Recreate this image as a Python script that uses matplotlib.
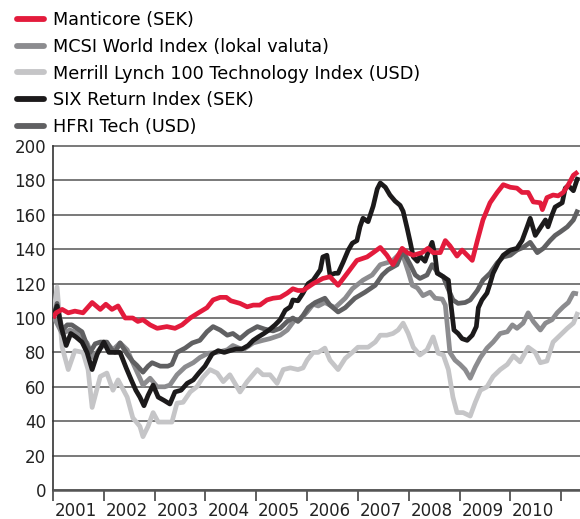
import matplotlib
matplotlib.use('Agg')
import matplotlib.pyplot as plt
import numpy as np

# (year, index value), start 2001 = 100
manticore = [
    (2001.00, 100), (2001.06, 103), (2001.18, 105), (2001.30, 103), (2001.43, 104), (2001.59, 103),
    (2001.77, 109), (2001.93, 105), (2002.04, 108), (2002.16, 105), (2002.28, 107), (2002.42, 100),
    (2002.57, 100), (2002.67, 98), (2002.77, 99), (2002.91, 96), (2003.05, 94), (2003.24, 95),
    (2003.40, 94), (2003.54, 96), (2003.70, 100), (2003.89, 103.5), (2004.03, 106), (2004.15, 110.5),
    (2004.29, 112), (2004.41, 112), (2004.50, 110), (2004.68, 108.5), (2004.82, 106.5), (2004.94, 107.5),
    (2005.07, 107.5), (2005.21, 110.5), (2005.33, 111.5), (2005.47, 112), (2005.61, 114.5), (2005.72, 117),
    (2005.82, 116), (2005.92, 116), (2006.12, 120), (2006.31, 123), (2006.45, 124), (2006.61, 119),
    (2006.79, 126), (2006.98, 133.5), (2007.18, 135.5), (2007.30, 138), (2007.44, 141), (2007.57, 136.5),
    (2007.69, 131), (2007.87, 140.5), (2007.97, 138), (2008.09, 136.5), (2008.26, 138), (2008.38, 140.5),
    (2008.48, 138), (2008.62, 138), (2008.72, 145), (2008.81, 142), (2008.95, 136), (2009.05, 139.5),
    (2009.15, 136.5), (2009.25, 133.5), (2009.35, 145), (2009.46, 157), (2009.60, 167), (2009.74, 173),
    (2009.86, 177.5), (2010.00, 176), (2010.13, 175.5), (2010.23, 173), (2010.35, 173), (2010.45, 167.5),
    (2010.59, 167), (2010.63, 163), (2010.72, 170), (2010.84, 171.5), (2010.94, 171), (2011.04, 173),
    (2011.14, 177.5), (2011.24, 183), (2011.33, 185),
]

msci_world = [
    (2001.00, 100), (2001.04, 99), (2001.18, 91), (2001.33, 93), (2001.49, 91), (2001.67, 85.5),
    (2001.79, 77), (2001.93, 82.5), (2002.06, 85.5), (2002.18, 81.5), (2002.32, 85.5), (2002.46, 81.5),
    (2002.57, 74), (2002.71, 65), (2002.77, 61), (2002.91, 65), (2003.05, 60), (2003.20, 60),
    (2003.30, 61), (2003.44, 67), (2003.60, 71.5), (2003.76, 74), (2003.89, 77), (2004.05, 79.5),
    (2004.23, 80), (2004.43, 81.5), (2004.54, 84), (2004.74, 81.5), (2004.94, 85.5), (2005.13, 87),
    (2005.27, 88), (2005.47, 90), (2005.61, 93), (2005.76, 99), (2005.86, 99), (2006.00, 103.5),
    (2006.12, 108), (2006.22, 107), (2006.35, 109), (2006.55, 106), (2006.75, 111.5), (2006.89, 117),
    (2007.10, 122), (2007.28, 125), (2007.44, 131), (2007.67, 133), (2007.79, 136.5), (2007.89, 136),
    (2007.99, 127), (2008.07, 119), (2008.17, 117.5), (2008.28, 113), (2008.42, 115), (2008.52, 111.5),
    (2008.66, 111), (2008.72, 107.5), (2008.81, 80), (2008.91, 75.5), (2009.01, 73), (2009.11, 70),
    (2009.21, 65), (2009.31, 71.5), (2009.41, 77), (2009.54, 82.5), (2009.66, 86), (2009.80, 91),
    (2009.94, 92), (2010.04, 96), (2010.13, 94), (2010.25, 97), (2010.35, 103), (2010.45, 98),
    (2010.59, 93), (2010.69, 97), (2010.82, 99), (2010.92, 103), (2011.04, 106.5), (2011.14, 109),
    (2011.24, 114.5), (2011.33, 114),
]

merrill_tech = [
    (2001.00, 100), (2001.08, 118), (2001.18, 83), (2001.30, 70), (2001.43, 81), (2001.59, 80),
    (2001.69, 70), (2001.77, 48), (2001.93, 66), (2002.06, 68), (2002.18, 58), (2002.28, 64),
    (2002.46, 54), (2002.57, 42), (2002.71, 37), (2002.77, 31), (2002.87, 37), (2002.97, 45),
    (2003.07, 39.5), (2003.24, 39.5), (2003.34, 39.5), (2003.44, 50.5), (2003.56, 51), (2003.70, 57),
    (2003.83, 60), (2003.95, 65.5), (2004.09, 70), (2004.23, 68), (2004.35, 63), (2004.48, 67),
    (2004.68, 57), (2004.82, 63), (2005.02, 70), (2005.13, 67), (2005.27, 67), (2005.41, 62),
    (2005.53, 70), (2005.67, 71), (2005.82, 70), (2005.92, 71), (2006.00, 75.5), (2006.12, 80),
    (2006.22, 80), (2006.35, 82.5), (2006.45, 75.5), (2006.61, 70), (2006.75, 76.5), (2006.89, 80),
    (2007.00, 83), (2007.20, 83), (2007.34, 86), (2007.44, 90), (2007.57, 90), (2007.69, 91),
    (2007.79, 93), (2007.89, 97), (2007.99, 91), (2008.09, 83), (2008.22, 78.5), (2008.36, 81.5),
    (2008.48, 89), (2008.58, 79.5), (2008.68, 78.5), (2008.78, 70), (2008.87, 54), (2008.95, 45),
    (2009.07, 45), (2009.21, 43), (2009.31, 51), (2009.41, 58), (2009.54, 60), (2009.66, 66),
    (2009.80, 70), (2009.94, 73), (2010.06, 78), (2010.19, 74.5), (2010.35, 83), (2010.49, 80),
    (2010.59, 74), (2010.72, 75), (2010.84, 86), (2010.98, 90), (2011.12, 94), (2011.24, 97),
    (2011.33, 103.5),
]

six_return = [
    (2001.00, 100), (2001.08, 107), (2001.16, 95), (2001.26, 84), (2001.35, 91), (2001.45, 89),
    (2001.57, 86), (2001.67, 80), (2001.77, 70), (2001.87, 79), (2002.00, 86), (2002.10, 80),
    (2002.20, 80), (2002.32, 80), (2002.44, 71), (2002.54, 64), (2002.63, 58), (2002.71, 54),
    (2002.79, 49), (2002.87, 55), (2002.97, 61), (2003.07, 54), (2003.19, 52), (2003.30, 50),
    (2003.40, 57), (2003.52, 58), (2003.64, 62), (2003.76, 64), (2003.87, 68), (2003.99, 72),
    (2004.13, 79), (2004.25, 81), (2004.37, 80), (2004.48, 81), (2004.60, 82), (2004.72, 82),
    (2004.84, 84), (2004.94, 87), (2005.04, 89), (2005.15, 91), (2005.25, 93), (2005.37, 96),
    (2005.47, 99), (2005.57, 104.5), (2005.67, 106.5), (2005.72, 110.5), (2005.82, 110), (2005.92, 114.5),
    (2006.02, 120), (2006.12, 122), (2006.26, 128), (2006.31, 135.5), (2006.39, 136.5), (2006.45, 125),
    (2006.55, 126), (2006.61, 126), (2006.71, 132.5), (2006.81, 139.5), (2006.89, 143.5), (2006.98, 145),
    (2007.04, 153), (2007.10, 158), (2007.20, 156), (2007.30, 165), (2007.38, 175), (2007.44, 178.5),
    (2007.54, 176), (2007.63, 171.5), (2007.73, 168), (2007.83, 165.5), (2007.89, 162), (2007.97, 152),
    (2008.03, 144), (2008.09, 135.5), (2008.17, 133), (2008.22, 136), (2008.32, 133), (2008.38, 138),
    (2008.46, 144), (2008.52, 136), (2008.56, 126), (2008.68, 124), (2008.78, 122), (2008.83, 108),
    (2008.89, 93), (2008.97, 91), (2009.05, 88), (2009.15, 87), (2009.25, 90), (2009.33, 95),
    (2009.37, 106), (2009.44, 110.5), (2009.54, 114.5), (2009.60, 120), (2009.66, 126), (2009.76, 132),
    (2009.86, 136.5), (2010.00, 139.5), (2010.13, 140.5), (2010.23, 145), (2010.33, 153), (2010.39, 158),
    (2010.49, 148), (2010.59, 152.5), (2010.69, 157), (2010.74, 153), (2010.82, 160), (2010.88, 164.5),
    (2011.02, 167), (2011.08, 175.5), (2011.14, 177), (2011.24, 174), (2011.33, 182),
]

hfri_tech = [
    (2001.00, 100), (2001.08, 108.5), (2001.18, 93), (2001.28, 96), (2001.37, 96), (2001.47, 94),
    (2001.57, 92), (2001.67, 84), (2001.73, 80), (2001.83, 85), (2001.93, 86), (2002.06, 86),
    (2002.14, 82), (2002.22, 80), (2002.32, 85.5), (2002.46, 79), (2002.56, 75), (2002.65, 72.5),
    (2002.77, 68.5), (2002.87, 72), (2002.95, 74), (2003.11, 72), (2003.26, 72), (2003.34, 73),
    (2003.44, 80), (2003.60, 82.5), (2003.74, 85.5), (2003.89, 87), (2004.03, 92), (2004.15, 95),
    (2004.29, 93), (2004.43, 90), (2004.54, 91), (2004.68, 88), (2004.84, 92), (2005.02, 95),
    (2005.17, 93.5), (2005.33, 92.5), (2005.47, 94), (2005.61, 98), (2005.72, 100), (2005.82, 98),
    (2005.92, 101.5), (2006.02, 106), (2006.16, 109), (2006.35, 111.5), (2006.45, 107.5), (2006.61, 103.5),
    (2006.75, 106), (2006.94, 111.5), (2007.14, 115), (2007.34, 119), (2007.48, 125), (2007.59, 128),
    (2007.77, 131), (2007.87, 138), (2007.93, 136.5), (2008.03, 131), (2008.13, 125), (2008.22, 123),
    (2008.36, 125), (2008.46, 131), (2008.58, 126), (2008.68, 124), (2008.76, 118), (2008.87, 110.5),
    (2008.97, 108.5), (2009.11, 109), (2009.21, 110.5), (2009.35, 116), (2009.46, 122), (2009.60, 126),
    (2009.74, 132), (2009.86, 135.5), (2010.00, 136.5), (2010.13, 139.5), (2010.25, 141), (2010.39, 144),
    (2010.53, 138), (2010.65, 140.5), (2010.78, 145), (2010.88, 148), (2010.98, 150), (2011.12, 153),
    (2011.24, 157), (2011.33, 163),
]

series_names = ['Manticore (SEK)', 'MCSI World Index (lokal valuta)',
                'Merrill Lynch 100 Technology Index (USD)', 'SIX Return Index (SEK)', 'HFRI Tech (USD)']
series_data = [manticore, msci_world, merrill_tech, six_return, hfri_tech]
series_colors = ['#e31b3c', '#8c8c8f', '#c5c5c7', '#1c1a1b', '#606062']
draw_order = [2, 1, 4, 3, 0]   # which series ends up on top

years = list(range(2001, 2012))
y_ticks = list(range(0, 201, 20))

fig = plt.figure(figsize=(5.8, 5.19), dpi=100)
ax = fig.add_axes([53 / 580, 29 / 519, 527 / 580, 344 / 519])

lines = {}
for i in draw_order:
    t, v = zip(*series_data[i])
    ln, = ax.plot(t, v, color=series_colors[i], lw=3.4, solid_joinstyle='round',
                  solid_capstyle='butt', zorder=3 + draw_order.index(i))
    lines[i] = ln

ax.set_xlim(2001, 2011.37)
ax.set_ylim(0, 200)

ax.set_yticks(y_ticks)
ax.tick_params(axis='y', length=0, pad=5, labelsize=12, labelcolor='#222222')
ax.grid(axis='y', color='#555555', lw=1.1)
for gl in ax.get_ygridlines():
    gl.set_clip_on(False)

ax.set_xticks(years)
ax.set_xticklabels([])
ax.set_xticks([y + 0.45 for y in years[:-1]], minor=True)
ax.set_xticklabels([str(y) for y in years[:-1]], minor=True)
ax.tick_params(axis='x', which='major', length=8, width=1.2, color='#444444', direction='out')
ax.tick_params(axis='x', which='minor', length=0, pad=9, labelsize=12, labelcolor='#222222')

for s in ['top', 'right']:
    ax.spines[s].set_visible(False)
ax.spines['left'].set_color('#333333')
ax.spines['left'].set_linewidth(1.2)
ax.spines['bottom'].set_color('#555555')
ax.spines['bottom'].set_linewidth(1.8)
ax.set_axisbelow(True)

handles = [lines[i] for i in range(5)]
leg = fig.legend(handles, series_names, loc='upper left', bbox_to_anchor=(17 / 580, 1 - 11 / 519),
                 frameon=False, fontsize=12.7, handlelength=1.55, handletextpad=0.5,
                 labelspacing=0.5, borderpad=0, borderaxespad=0)
for h in leg.legend_handles:
    h.set_linewidth(4.2)
    h.set_solid_capstyle('round')

fig.savefig('out.png', dpi=100)
